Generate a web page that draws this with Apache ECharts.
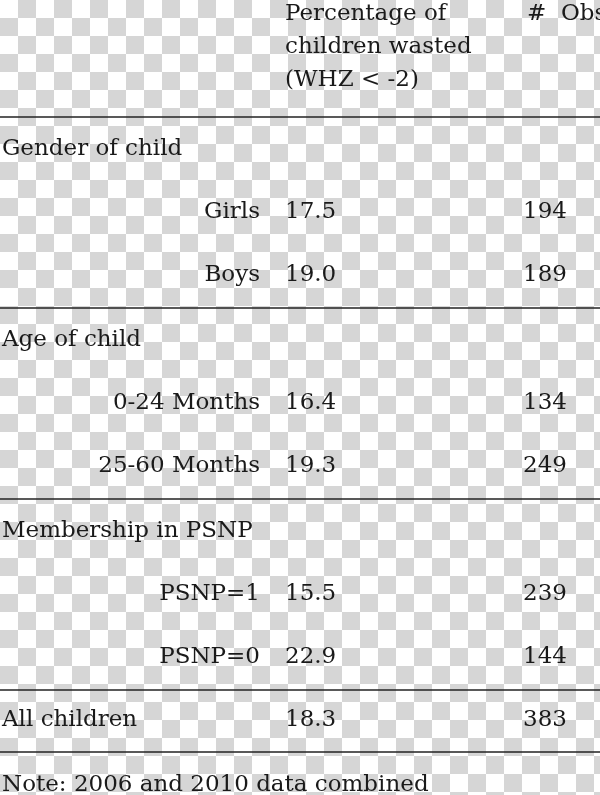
<!DOCTYPE html>
<html><head><meta charset="utf-8">
<script src="https://cdn.jsdelivr.net/npm/echarts@6/dist/echarts.min.js"></script>
<style>html,body{margin:0;padding:0}#main{width:600px;height:795px}</style>
</head><body><div id="main"></div>
<script>
var headerLines = ['Percentage of', 'children wasted', '(WHZ < -2)']
var obsHeader = '#  Obs.'
var groups = ['Gender of child', 'Age of child', 'Membership in PSNP']
var rowLabels = [['Girls', 'Boys'], ['0-24 Months', '25-60 Months'], ['PSNP=1', 'PSNP=0']]
var rowPct = [['17.5', '19.0'], ['16.4', '19.3'], ['15.5', '22.9']]
var rowObs = [['194', '189'], ['134', '249'], ['239', '144']]
var totalLabel = 'All children', totalPct = '18.3', totalObs = '383'
var note = 'Note: 2006 and 2010 data combined'

// checkerboard backdrop
var cv = document.createElement('canvas'); cv.width = 36; cv.height = 36
var cx = cv.getContext('2d')
cx.fillStyle = '#ffffff'; cx.fillRect(0, 0, 36, 36)
cx.fillStyle = '#d6d6d6'; cx.fillRect(18, 0, 18, 18); cx.fillRect(0, 18, 18, 18)

var font = '"DejaVu Serif", "Liberation Serif", serif'
var els = []
function txt(s, x, y, align) {
  els.push({type: 'text', x: x, y: y, style: {text: s, fill: '#1a1a1a', font: '23px ' + font, textAlign: align || 'left', textVerticalAlign: 'middle'}})
}
function rule(y) {
  els.push({type: 'line', shape: {x1: 0, y1: y, x2: 600, y2: y}, style: {stroke: '#222', lineWidth: 1.5}})
}
headerLines.forEach(function (s, i) { txt(s, 285, 14 + i * 33) })
txt(obsHeader, 527, 14)
rule(117)
var y = 149
groups.forEach(function (g, gi) {
  txt(g, 2, y)
  rowLabels[gi].forEach(function (l, ri) {
    var ry = y + 63 * (ri + 1)
    txt(l, 260, ry, 'right')
    txt(rowPct[gi][ri], 285, ry)
    txt(rowObs[gi][ri], 567, ry, 'right')
  })
  rule(y + 159)
  y += 191
})
txt(totalLabel, 2, 720); txt(totalPct, 285, 720); txt(totalObs, 567, 720, 'right')
rule(752)
txt(note, 2, 785)

var chart = echarts.init(document.getElementById('main'))
chart.setOption({
  backgroundColor: {image: cv, repeat: 'repeat'},
  animation: false,
  graphic: els
})
</script></body></html>
